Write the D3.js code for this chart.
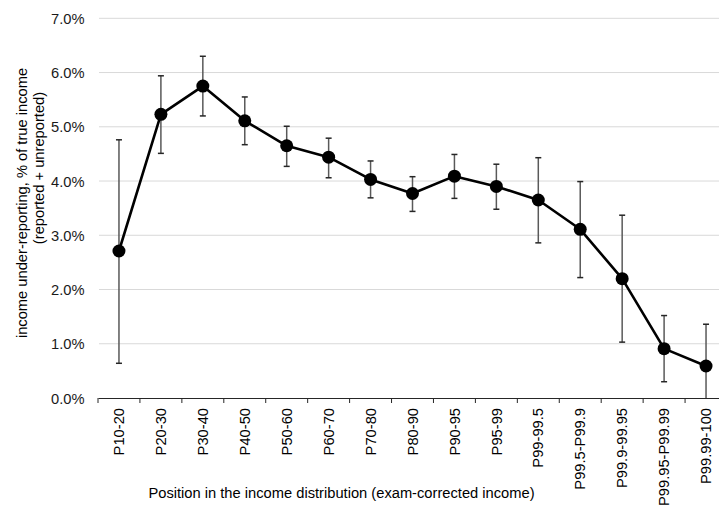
<!DOCTYPE html>
<html><head><meta charset="utf-8">
<script src="https://cdn.jsdelivr.net/npm/d3@7"></script>
<style>body{margin:0;background:#fff}svg{display:block}text{font-family:"Liberation Sans",Arial,sans-serif}</style>
</head><body>
<svg id="c" width="719" height="512"></svg>
<script>
const categories = ["P10-20","P20-30","P30-40","P40-50","P50-60","P60-70","P70-80","P80-90","P90-95","P95-99","P99-99.5","P99.5-P99.9","P99.9-99.95","P99.95-P99.99","P99.99-100"];
const values = [2.71,5.23,5.75,5.11,4.65,4.44,4.03,3.77,4.09,3.90,3.65,3.11,2.20,0.91,0.59];
const upper  = [4.76,5.94,6.30,5.55,5.01,4.79,4.37,4.08,4.49,4.31,4.43,3.99,3.37,1.52,1.36];
const lower  = [0.64,4.51,5.20,4.67,4.27,4.06,3.69,3.44,3.68,3.48,2.86,2.22,1.03,0.30,0.00];
const yTicks = [0,1,2,3,4,5,6,7];

const FS = 14.7;
const svg = d3.select("#c");
const x = d3.scaleBand().domain(categories).range([98, 727]);
const y = d3.scaleLinear().domain([0, 7]).range([398, 18.3]);
const cx = d => x(d) + x.bandwidth()/2;

// gridlines
svg.append("g").selectAll("line").data(yTicks.filter(t=>t>0)).join("line")
  .attr("x1", 99).attr("x2", 727)
  .attr("y1", d=>y(d)).attr("y2", d=>y(d))
  .attr("stroke", "#d9d9d9").attr("stroke-width", 1);

// y axis labels
const yAxis = d3.axisLeft(y).tickValues(yTicks).tickFormat(d=>d.toFixed(1)+"%").tickSize(0).tickPadding(0);
const ga = svg.append("g").attr("transform","translate(84.5,0)").call(yAxis);
ga.select(".domain").remove();
ga.selectAll("text").attr("font-size", FS).attr("fill","#1a1a1a").attr("font-family","Liberation Sans, Arial, sans-serif").attr("dy","0.35em");

// x axis
const xAxis = d3.axisBottom(x).tickSize(0).tickPadding(0);
const gx = svg.append("g").attr("transform","translate(0,398)").call(xAxis);
gx.select(".domain").attr("stroke","#262626").attr("stroke-width",1);
gx.selectAll("text").attr("font-size", FS).attr("fill","#000").attr("font-family","Liberation Sans, Arial, sans-serif")
  .attr("transform","rotate(-90)").attr("text-anchor","end")
  .attr("x", -10).attr("y", 0).attr("dy","0.35em");
// boundary tick marks
const bounds = d3.range(categories.length+1).map(i=>x.range()[0] + i*x.step());
gx.append("g").selectAll("line").data(bounds).join("line")
  .attr("x1",d=>d).attr("x2",d=>d).attr("y1",0).attr("y2",5)
  .attr("stroke","#262626").attr("stroke-width",1);

// error bars
const eb = svg.append("g").attr("stroke","#595959").attr("stroke-width",1.5);
categories.forEach((c,i)=>{
  const xc = cx(c);
  eb.append("line").attr("x1",xc).attr("x2",xc).attr("y1",y(upper[i])).attr("y2",y(lower[i]));
  eb.append("line").attr("x1",xc-3).attr("x2",xc+3).attr("y1",y(upper[i])).attr("y2",y(upper[i])).attr("stroke","#262626");
  if (lower[i] > 0) eb.append("line").attr("x1",xc-3).attr("x2",xc+3).attr("y1",y(lower[i])).attr("y2",y(lower[i])).attr("stroke","#262626");
});

// line
const line = d3.line().x((d,i)=>cx(categories[i])).y(d=>y(d));
svg.append("path").datum(values).attr("d", line).attr("fill","none").attr("stroke","#000").attr("stroke-width",2.6).attr("stroke-linejoin","round");
svg.append("g").selectAll("circle").data(values).join("circle")
  .attr("cx",(d,i)=>cx(categories[i])).attr("cy",d=>y(d)).attr("r",6.5).attr("fill","#000");

// titles
svg.append("text").attr("transform","translate(21.5,203) rotate(-90)").attr("text-anchor","middle").attr("dy","0.35em")
  .attr("font-size",FS).attr("fill","#000").text("income under-reporting, % of true income");
svg.append("text").attr("transform","translate(39,168) rotate(-90)").attr("text-anchor","middle").attr("dy","0.35em")
  .attr("font-size",FS).attr("fill","#000").text("(reported + unreported)");
svg.append("text").attr("x",341.5).attr("y",498).attr("text-anchor","middle")
  .attr("font-size",FS).attr("fill","#000").text("Position in the income distribution (exam-corrected income)");
</script>
</body></html>
